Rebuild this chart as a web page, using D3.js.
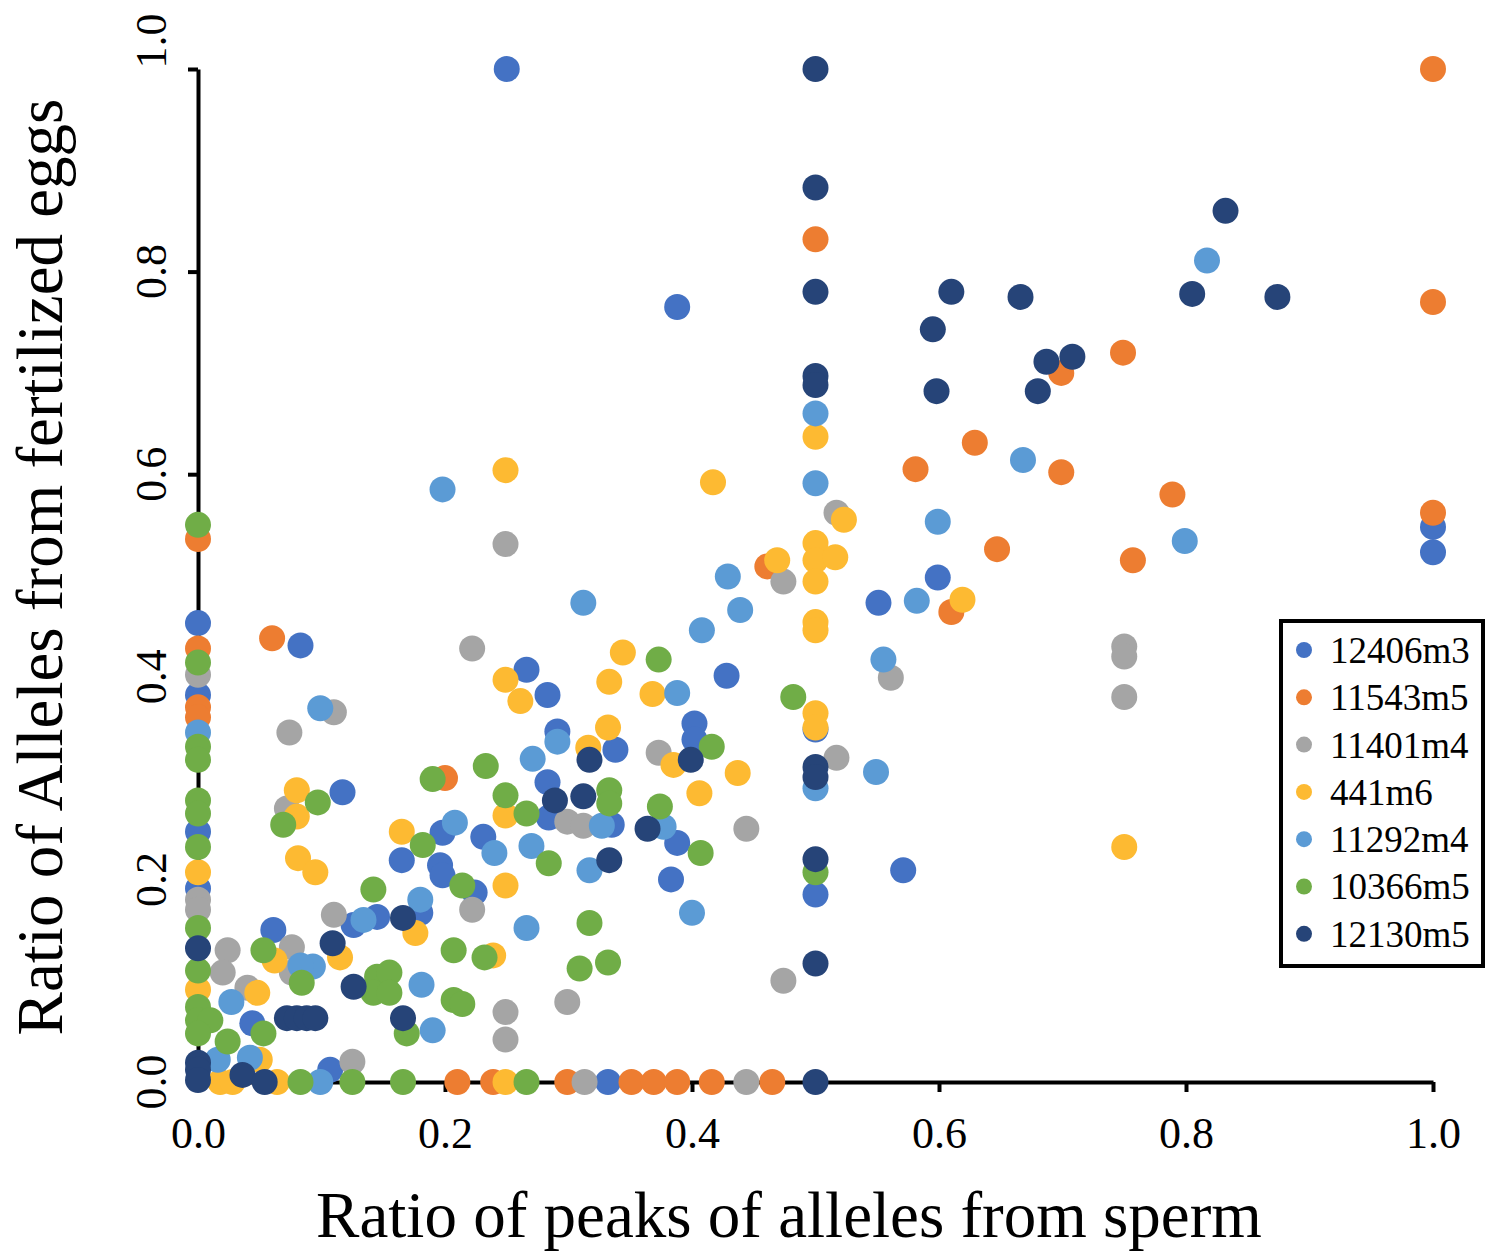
<!DOCTYPE html>
<html>
<head>
<meta charset="utf-8">
<script src="https://cdn.jsdelivr.net/npm/d3@7"></script>
<style>
body { margin: 0; background: #fff; }
svg { display: block; font-family: "Liberation Serif", "Times New Roman", serif; }
</style>
</head>
<body>
<svg id="chart" width="1486" height="1252"></svg>
<script>
// Series names and colours, in legend (and drawing) order
var seriesNames = ["12406m3", "11543m5", "11401m4", "441m6", "11292m4", "10366m5", "12130m5"];
var seriesColors = ["#4472C4", "#ED7D31", "#A5A5A5", "#FDBA32", "#5B9BD5", "#70AD47", "#264478"];

// [peak ratio from sperm, allele ratio from fertilized eggs]
var s12406m3 = [
    [0.25, 1.0], [0.388, 0.765], [1.0, 0.548], [1.0, 0.523], [0.599, 0.498], [0.551, 0.473],
    [0.428, 0.401], [0.5, 0.348], [0.5, 0.185], [0.571, 0.209], [0, 0.453], [0, 0.382],
    [0.083, 0.431], [0.117, 0.286], [0.266, 0.407], [0.283, 0.382], [0.402, 0.354], [0.402, 0.338],
    [0.291, 0.346], [0.338, 0.328], [0.283, 0.296], [0.284, 0.261], [0.335, 0.254], [0.388, 0.236],
    [0.231, 0.242], [0.383, 0.2], [0.224, 0.187], [0, 0.247], [0, 0.191], [0.165, 0.219],
    [0.198, 0.246], [0.196, 0.214], [0.198, 0.204], [0.18, 0.167], [0.145, 0.163], [0.126, 0.155],
    [0.061, 0.15], [0.044, 0.058], [0.107, 0.012], [0.332, 0]
];
var s11543m5 = [
    [1.0, 1.0], [0.5, 0.832], [1.0, 0.77], [0.749, 0.72], [0.699, 0.70], [0.629, 0.631],
    [0.699, 0.602], [0.581, 0.605], [0.789, 0.58], [1.0, 0.562], [0.647, 0.526], [0.757, 0.515],
    [0.61, 0.464], [0.461, 0.509], [0, 0.536], [0, 0.428], [0, 0.37], [0, 0.36],
    [0.06, 0.438], [0.2, 0.3], [0.21, 0], [0.239, 0], [0.299, 0], [0.351, 0],
    [0.369, 0], [0.388, 0], [0.416, 0], [0.465, 0]
];
var s11401m4 = [
    [0.517, 0.562], [0.249, 0.531], [0.474, 0.494], [0.561, 0.399], [0.75, 0.43], [0.75, 0.42],
    [0.75, 0.38], [0.222, 0.428], [0.517, 0.32], [0.444, 0.25], [0.474, 0.1], [0.373, 0.325],
    [0.299, 0.257], [0.312, 0.253], [0.11, 0.365], [0.074, 0.345], [0, 0.402], [0, 0.18],
    [0, 0.17], [0.222, 0.17], [0.299, 0.079], [0.249, 0.069], [0.249, 0.042], [0.072, 0.27],
    [0.11, 0.165], [0.076, 0.133], [0.076, 0.108], [0.024, 0.13], [0.02, 0.108], [0.04, 0.093],
    [0.125, 0.02], [0.313, 0], [0.444, 0]
];
var s441m6 = [
    [0.249, 0.604], [0.417, 0.592], [0.5, 0.637], [0.5, 0.532], [0.5, 0.515], [0.5, 0.494],
    [0.5, 0.454], [0.5, 0.446], [0.523, 0.555], [0.516, 0.518], [0.469, 0.515], [0.619, 0.476],
    [0.5, 0.364], [0.5, 0.35], [0.437, 0.305], [0.75, 0.232], [0.344, 0.424], [0.333, 0.395],
    [0.368, 0.383], [0.249, 0.397], [0.261, 0.376], [0.332, 0.35], [0.316, 0.33], [0.385, 0.313],
    [0.406, 0.285], [0.249, 0.263], [0.249, 0.194], [0.239, 0.125], [0.08, 0.288], [0.08, 0.262],
    [0.081, 0.221], [0.095, 0.207], [0.165, 0.247], [0.176, 0.147], [0.115, 0.123], [0.062, 0.12],
    [0.048, 0.088], [0, 0.207], [0, 0.091], [0.05, 0.022], [0.018, 0], [0.028, 0],
    [0.064, 0], [0.249, 0]
];
var s11292m4 = [
    [0.817, 0.811], [0.5, 0.66], [0.668, 0.614], [0.5, 0.591], [0.198, 0.585], [0.599, 0.553],
    [0.799, 0.534], [0.429, 0.499], [0.582, 0.475], [0.312, 0.473], [0.439, 0.466], [0.408, 0.446],
    [0.555, 0.417], [0.388, 0.384], [0.549, 0.306], [0.5, 0.29], [0.4, 0.167], [0.099, 0.369],
    [0, 0.345], [0.291, 0.336], [0.271, 0.319], [0.327, 0.253], [0.377, 0.252], [0.24, 0.226],
    [0.27, 0.233], [0.317, 0.209], [0.266, 0.152], [0.208, 0.256], [0.18, 0.18], [0.134, 0.16],
    [0.093, 0.114], [0.083, 0.115], [0.181, 0.096], [0.027, 0.079], [0.19, 0.051], [0.042, 0.024],
    [0.016, 0.022], [0.099, 0]
];
var s10366m5 = [
    [0, 0.55], [0, 0.414], [0, 0.331], [0, 0.318], [0, 0.278], [0, 0.265],
    [0, 0.232], [0, 0.152], [0, 0.11], [0, 0.074], [0, 0.061], [0.01, 0.061],
    [0, 0.048], [0.373, 0.417], [0.482, 0.38], [0.416, 0.331], [0.407, 0.226], [0.5, 0.207],
    [0.233, 0.312], [0.19, 0.299], [0.097, 0.276], [0.069, 0.254], [0.249, 0.283], [0.266, 0.265],
    [0.333, 0.288], [0.333, 0.275], [0.374, 0.272], [0.284, 0.216], [0.214, 0.194], [0.182, 0.234],
    [0.142, 0.19], [0.317, 0.157], [0.207, 0.13], [0.232, 0.123], [0.309, 0.112], [0.332, 0.118],
    [0.207, 0.081], [0.214, 0.077], [0.053, 0.13], [0.084, 0.098], [0.145, 0.104], [0.155, 0.108],
    [0.142, 0.088], [0.155, 0.088], [0.053, 0.048], [0.169, 0.048], [0.024, 0.04], [0.083, 0],
    [0.125, 0], [0.166, 0], [0.266, 0]
];
var s12130m5 = [
    [0.5, 1.0], [0.5, 0.883], [0.5, 0.78], [0.832, 0.86], [0.805, 0.778], [0.874, 0.775],
    [0.666, 0.775], [0.61, 0.78], [0.595, 0.743], [0.687, 0.711], [0.708, 0.716], [0.68, 0.682],
    [0.598, 0.682], [0.5, 0.697], [0.5, 0.688], [0.5, 0.311], [0.5, 0.301], [0.5, 0.22],
    [0.5, 0.117], [0.317, 0.318], [0.399, 0.318], [0.289, 0.278], [0.312, 0.282], [0.364, 0.25],
    [0.333, 0.219], [0.166, 0.162], [0.109, 0.137], [0, 0.132], [0.126, 0.094], [0.072, 0.063],
    [0.08, 0.063], [0.088, 0.063], [0.095, 0.063], [0.166, 0.063], [0, 0.019], [0, 0.012],
    [0, 0.002], [0.036, 0.007], [0.054, 0], [0.5, 0]
];
var allSeries = [s12406m3, s11543m5, s11401m4, s441m6, s11292m4, s10366m5, s12130m5];

// Tick values
var xTicks = [0, 0.2, 0.4, 0.6, 0.8, 1.0];
var yTicks = [0, 0.2, 0.4, 0.6, 0.8, 1.0];

var svg = d3.select("#chart");
var fmt = d3.format(".1f");

// Scales (plot area in page pixels)
var x = d3.scaleLinear().domain([0, 1]).range([198, 1433]);
var y = d3.scaleLinear().domain([0, 1]).range([1082, 69]);

// X axis
var xAxisG = svg.append("g")
    .attr("transform", "translate(0," + y(0) + ")")
    .call(d3.axisBottom(x).tickValues(xTicks).tickSize(10).tickSizeOuter(0).tickFormat(fmt));
xAxisG.select(".domain").attr("stroke", "#000").attr("stroke-width", 4);
xAxisG.selectAll(".tick line").attr("stroke", "#000").attr("stroke-width", 4);
xAxisG.selectAll(".tick text")
    .attr("y", 66)
    .attr("dy", 0)
    .attr("fill", "#000")
    .style("font-family", "'Liberation Serif', 'Times New Roman', serif")
    .style("font-size", "44px");

// Y axis (labels are rotated, drawn separately)
var yAxisG = svg.append("g")
    .attr("transform", "translate(" + x(0) + ",0)")
    .call(d3.axisLeft(y).tickValues(yTicks).tickSize(10).tickSizeOuter(0).tickFormat(""));
yAxisG.select(".domain").attr("stroke", "#000").attr("stroke-width", 4);
yAxisG.selectAll(".tick line").attr("stroke", "#000").attr("stroke-width", 4);

svg.selectAll(".ylab")
    .data(yTicks)
    .enter().append("text")
    .attr("class", "ylab")
    .attr("transform", function(d) {
        // top label sits above the end of the axis
        var yy = y(d) + (d === 1 ? -28 : 0);
        return "translate(166," + yy + ") rotate(-90)";
    })
    .attr("text-anchor", "middle")
    .style("font-size", "44px")
    .text(function(d) { return fmt(d); });

// Points, one group per series (later series on top)
allSeries.forEach(function(pts, i) {
    svg.append("g")
        .selectAll("circle")
        .data(pts)
        .enter().append("circle")
        .attr("cx", function(d) { return x(d[0]); })
        .attr("cy", function(d) { return y(d[1]); })
        .attr("r", 13)
        .attr("fill", seriesColors[i]);
});

// Axis titles
svg.append("text")
    .attr("x", 789)
    .attr("y", 1237)
    .attr("text-anchor", "middle")
    .style("font-size", "65px")
    .text("Ratio of peaks of alleles from sperm");

svg.append("text")
    .attr("transform", "translate(62," + 567 + ") rotate(-90)")
    .attr("text-anchor", "middle")
    .style("font-size", "65px")
    .text("Ratio of Alleles from fertilized eggs");

// Legend
var legend = svg.append("g").attr("transform", "translate(1281,621)");
legend.append("rect")
    .attr("width", 202)
    .attr("height", 345)
    .attr("fill", "#fff")
    .attr("stroke", "#000")
    .attr("stroke-width", 4);

var items = legend.selectAll(".legend")
    .data(seriesNames)
    .enter().append("g")
    .attr("class", "legend")
    .attr("transform", function(d, i) { return "translate(0," + (29 + i * 47.3) + ")"; });

items.append("circle")
    .attr("cx", 23)
    .attr("cy", 0)
    .attr("r", 8)
    .attr("fill", function(d, i) { return seriesColors[i]; });

items.append("text")
    .attr("x", 49)
    .attr("y", 0)
    .attr("dy", "0.35em")
    .style("font-size", "37px")
    .text(function(d) { return d; });
</script>
</body>
</html>
